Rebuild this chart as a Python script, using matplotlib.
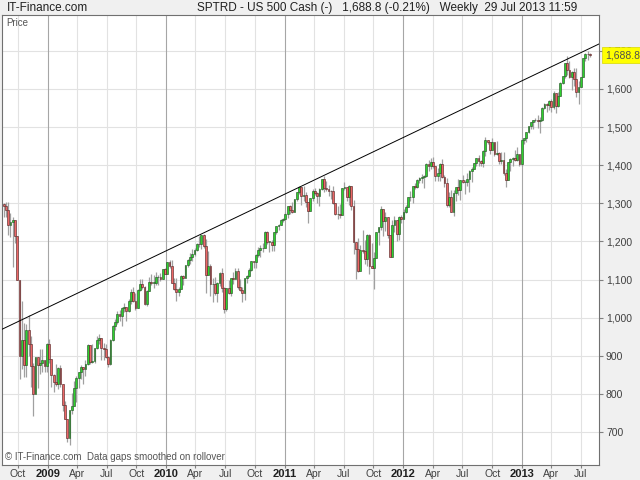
import matplotlib
matplotlib.use("Agg")
import matplotlib.pyplot as plt
import matplotlib.dates as mdates
import matplotlib.transforms as mtransforms
import numpy as np
import pandas as pd

plt.rcParams["font.family"] = ["Liberation Sans", "DejaVu Sans"]

# Weekly S&P 500 cash candles, week of 18 Aug 2008 to week of 29 Jul 2013
FIRST_OPEN = 1298.2

CLOSE_2008 = [1292.2, 1282.8, 1242.3, 1251.7, 1255.1, 1213.3, 1099.2, 899.2, 940.6, 876.8,
              968.8, 931.0, 873.3, 800.0, 896.2, 876.1, 879.7, 887.9, 872.8, 931.8]
HIGH_2008 = [1300.8, 1303.0, 1304.0, 1274.0, 1265.0, 1255.0, 1213.0, 1099.0, 1044.3, 985.4,
             984.4, 1007.5, 951.7, 882.3, 896.3, 896.0, 918.6, 918.9, 887.9, 934.7]
LOW_2008 = [1263.0, 1263.0, 1217.0, 1212.0, 1133.5, 1197.0, 1098.0, 839.8, 865.8, 845.3,
            845.3, 899.7, 818.7, 741.0, 799.9, 815.7, 851.4, 857.9, 857.1, 857.1]

CLOSE_2009 = [890.4, 850.1, 832.0, 825.9, 868.6, 826.8, 770.1, 735.1, 683.4, 756.6,
              768.5, 815.9, 842.5, 856.6, 869.6, 866.2, 877.5, 929.2, 882.9, 887.0,
              919.1, 940.1, 946.2, 921.2, 918.9, 896.4, 879.1, 940.4, 979.3, 987.5,
              1010.5, 1004.1, 1026.1, 1028.9, 1016.4, 1042.7, 1068.3, 1044.4, 1025.2, 1071.5,
              1087.7, 1079.6, 1036.2, 1069.3, 1093.5, 1091.4, 1091.5, 1106.0, 1106.4, 1102.5,
              1126.5, 1115.1]
HIGH_2009 = [943.9, 891.0, 852.5, 877.9, 870.8, 875.0, 827.0, 780.0, 735.1, 758.3,
             803.0, 833.0, 845.6, 856.9, 875.6, 871.8, 888.7, 930.2, 922.0, 930.2,
             920.0, 951.1, 956.2, 946.2, 934.0, 931.0, 898.7, 944.0, 979.8, 996.7,
             1018.0, 1020.9, 1027.6, 1039.5, 1028.5, 1049.7, 1074.8, 1080.2, 1065.0, 1076.0,
             1101.4, 1101.4, 1083.0, 1071.3, 1105.4, 1113.7, 1112.4, 1119.1, 1110.7, 1117.7,
             1126.5, 1130.4]
LOW_2009 = [879.9, 817.0, 804.0, 821.7, 812.9, 818.4, 754.3, 734.5, 672.9, 666.8,
            747.0, 768.0, 779.8, 814.5, 838.0, 826.8, 847.1, 875.0, 878.9, 881.0,
            881.5, 919.0, 930.0, 888.9, 889.0, 893.0, 869.3, 875.0, 940.0, 968.0,
            983.0, 990.0, 978.5, 1016.0, 991.0, 1016.0, 1035.0, 1041.0, 1020.0, 1025.0,
            1071.0, 1074.0, 1033.4, 1029.4, 1069.0, 1085.0, 1079.0, 1086.0, 1085.9, 1095.0,
            1102.0, 1114.8]

CLOSE_2010 = [1145.0, 1136.0, 1091.8, 1073.9, 1066.2, 1075.5, 1109.2, 1104.5, 1138.7, 1150.0,
              1159.9, 1166.6, 1178.1, 1194.4, 1192.1, 1217.3, 1186.7, 1110.9, 1135.7, 1087.7,
              1089.4, 1064.9, 1091.6, 1117.5, 1076.8, 1022.6, 1078.0, 1064.9, 1102.7, 1101.6,
              1121.6, 1079.3, 1071.7, 1064.6, 1104.5, 1109.6, 1125.6, 1148.7, 1146.2, 1165.2,
              1176.2, 1183.1, 1183.3, 1225.9, 1199.2, 1199.7, 1189.4, 1224.7, 1240.4, 1243.9,
              1256.8, 1257.6]
HIGH_2010 = [1145.4, 1150.5, 1150.4, 1103.7, 1104.7, 1080.0, 1112.4, 1112.4, 1139.0, 1153.4,
             1169.2, 1180.7, 1181.4, 1194.7, 1213.9, 1217.3, 1219.8, 1206.0, 1173.6, 1141.8,
             1104.7, 1105.7, 1093.0, 1119.0, 1131.2, 1080.0, 1078.0, 1099.1, 1103.7, 1120.9,
             1129.2, 1129.2, 1100.1, 1081.6, 1105.1, 1110.9, 1131.5, 1148.9, 1149.9, 1167.7,
             1184.4, 1189.4, 1196.1, 1227.1, 1227.1, 1200.7, 1204.2, 1225.6, 1240.4, 1246.7,
             1259.4, 1262.6]
LOW_2010 = [1115.0, 1131.0, 1090.0, 1071.6, 1044.5, 1056.5, 1075.0, 1086.0, 1105.0, 1134.0,
            1141.0, 1148.0, 1161.0, 1175.0, 1186.0, 1181.0, 1181.6, 1065.8, 1122.0, 1055.9,
            1040.8, 1060.0, 1042.2, 1084.0, 1067.0, 1010.9, 1018.0, 1063.0, 1056.0, 1088.0,
            1104.0, 1076.0, 1069.0, 1040.0, 1047.0, 1091.0, 1107.0, 1122.0, 1131.0, 1131.0,
            1159.0, 1159.0, 1171.0, 1184.0, 1194.0, 1173.0, 1176.0, 1173.6, 1220.0, 1231.0,
            1243.0, 1251.0]

CLOSE_2011 = [1271.5, 1293.2, 1283.4, 1276.3, 1310.9, 1329.2, 1343.0, 1319.9, 1321.2, 1304.3,
              1279.2, 1313.8, 1332.4, 1328.2, 1319.7, 1337.4, 1363.6, 1340.2, 1337.8, 1333.3,
              1331.1, 1300.2, 1271.0, 1271.5, 1268.5, 1339.7, 1343.8, 1316.1, 1345.0, 1292.3,
              1199.4, 1178.8, 1123.5, 1176.8, 1174.0, 1154.2, 1216.0, 1136.4, 1131.4, 1155.5,
              1224.6, 1238.3, 1285.1, 1253.2, 1263.9, 1215.7, 1158.7, 1244.3, 1255.2, 1219.7,
              1265.3, 1257.6]
HIGH_2011 = [1278.2, 1293.2, 1296.7, 1302.7, 1311.0, 1330.0, 1344.1, 1342.0, 1344.1, 1330.9,
             1304.4, 1315.0, 1337.9, 1339.5, 1328.9, 1339.5, 1364.6, 1370.6, 1359.4, 1346.8,
             1334.6, 1345.2, 1300.4, 1292.5, 1298.6, 1341.0, 1356.5, 1344.0, 1347.0, 1345.2,
             1307.4, 1199.4, 1208.5, 1190.7, 1230.7, 1204.4, 1220.4, 1220.4, 1195.9, 1171.4,
             1224.6, 1239.0, 1292.7, 1285.1, 1277.6, 1264.3, 1215.7, 1255.1, 1267.0, 1255.2,
             1265.4, 1269.4]
LOW_2011 = [1257.0, 1262.2, 1271.3, 1275.0, 1276.0, 1306.0, 1324.0, 1294.3, 1306.0, 1291.0,
            1249.0, 1279.0, 1305.0, 1322.0, 1302.0, 1294.0, 1334.0, 1329.0, 1331.0, 1318.0,
            1311.8, 1297.0, 1268.0, 1258.0, 1262.7, 1268.0, 1334.0, 1306.0, 1295.9, 1282.9,
            1168.1, 1101.5, 1121.0, 1122.0, 1170.0, 1140.0, 1136.0, 1114.2, 1131.0, 1074.8,
            1170.0, 1191.5, 1231.0, 1215.4, 1226.6, 1209.0, 1158.0, 1158.7, 1225.0, 1202.0,
            1202.4, 1248.6]

CLOSE_2012 = [1277.8, 1289.1, 1315.4, 1316.3, 1344.9, 1342.6, 1361.2, 1365.7, 1370.0, 1370.9,
              1404.2, 1397.1, 1408.5, 1398.1, 1370.3, 1378.5, 1403.4, 1369.1, 1353.4, 1295.2,
              1317.8, 1278.0, 1325.7, 1342.8, 1335.0, 1362.2, 1354.7, 1356.8, 1362.7, 1386.0,
              1391.0, 1405.9, 1418.2, 1411.1, 1406.6, 1437.9, 1465.8, 1460.2, 1440.7, 1460.9,
              1428.6, 1433.2, 1411.9, 1414.2, 1379.9, 1359.9, 1409.2, 1416.2, 1418.1, 1413.6,
              1430.2, 1402.4, 1466.5]
HIGH_2012 = [1284.6, 1296.8, 1315.5, 1333.5, 1345.3, 1354.3, 1363.5, 1368.9, 1378.0, 1374.0,
             1406.6, 1414.0, 1419.2, 1422.4, 1398.0, 1392.8, 1406.6, 1415.3, 1373.0, 1365.9,
             1328.5, 1334.9, 1335.5, 1343.3, 1363.5, 1362.2, 1374.8, 1362.0, 1380.4, 1387.2,
             1394.2, 1405.9, 1418.7, 1426.7, 1413.5, 1438.7, 1474.5, 1467.0, 1460.7, 1471.0,
             1460.9, 1464.0, 1433.8, 1434.3, 1433.4, 1388.8, 1409.2, 1419.7, 1420.9, 1438.6,
             1448.0, 1430.2, 1470.0]
LOW_2012 = [1258.0, 1274.0, 1290.2, 1306.0, 1300.5, 1337.0, 1340.0, 1352.0, 1354.0, 1340.0,
            1370.0, 1386.0, 1391.0, 1392.0, 1357.4, 1358.0, 1358.7, 1367.0, 1343.0, 1291.0,
            1291.0, 1277.0, 1266.7, 1306.6, 1323.0, 1309.0, 1353.0, 1325.4, 1345.0, 1329.0,
            1354.7, 1391.0, 1397.0, 1398.0, 1397.0, 1396.0, 1425.0, 1455.0, 1430.0, 1440.0,
            1425.0, 1428.0, 1403.3, 1403.0, 1373.0, 1343.4, 1360.0, 1385.4, 1398.0, 1411.9,
            1412.0, 1398.1, 1398.0]

CLOSE_2013 = [1472.1, 1486.0, 1503.0, 1513.2, 1517.9, 1519.8, 1515.6, 1518.2, 1551.2, 1560.7,
              1556.9, 1569.2, 1553.3, 1588.9, 1555.3, 1582.2, 1614.4, 1633.7, 1667.5, 1649.6,
              1630.7, 1643.4, 1626.7, 1592.4, 1606.3, 1631.9, 1680.2, 1692.1, 1691.7, 1688.8]
HIGH_2013 = [1472.3, 1486.0, 1503.3, 1514.4, 1518.3, 1524.7, 1530.9, 1525.8, 1552.5, 1563.6,
             1563.6, 1570.3, 1573.7, 1593.3, 1588.9, 1592.6, 1618.5, 1635.0, 1667.5, 1687.2,
             1674.2, 1646.5, 1654.2, 1654.2, 1620.0, 1632.1, 1680.2, 1693.1, 1698.8, 1693.0]
LOW_2013 = [1456.0, 1461.0, 1485.0, 1496.0, 1495.0, 1514.0, 1497.3, 1485.0, 1515.0, 1547.0,
            1538.6, 1546.0, 1539.5, 1548.0, 1536.0, 1553.0, 1581.0, 1614.0, 1628.0, 1635.5,
            1630.0, 1598.2, 1608.0, 1577.7, 1560.3, 1604.6, 1631.0, 1674.0, 1676.0, 1683.0]

LAST_PRICE = 1688.8

# hand-drawn trend line (two anchor points)
TREND_DATES = ["2008-08-13", "2013-08-26"]
TREND_VALUES = [969.5, 1718.0]

# assemble series
close = np.array(CLOSE_2008 + CLOSE_2009 + CLOSE_2010 + CLOSE_2011 + CLOSE_2012 + CLOSE_2013)
high = np.array(HIGH_2008 + HIGH_2009 + HIGH_2010 + HIGH_2011 + HIGH_2012 + HIGH_2013)
low = np.array(LOW_2008 + LOW_2009 + LOW_2010 + LOW_2011 + LOW_2012 + LOW_2013)
opens = np.r_[FIRST_OPEN, close[:-1]]  # cash index: week opens at previous close
high = np.maximum(high, np.maximum(opens, close))
low = np.minimum(low, np.minimum(opens, close))

weeks = pd.date_range("2008-08-18", periods=len(close), freq="W-MON")
x = mdates.date2num(weeks)

fig = plt.figure(figsize=(6.4, 4.8), dpi=100, facecolor="#f0f0f0")
ax = fig.add_axes([2 / 640, 15 / 480, 597 / 640, 450 / 480])
ax.set_facecolor("white")

x0 = mdates.date2num(pd.Timestamp("2008-08-13"))
x1 = mdates.date2num(pd.Timestamp("2013-08-26"))
ax.set_xlim(x0, x1)
ax.set_ylim(613.4, 1794)

# grid
yticks = np.arange(700, 1800, 100)
for yv in yticks:
    ax.axhline(yv, color="#e2e2e2", lw=0.8, zorder=0)
qticks = pd.date_range("2008-10-01", "2013-07-01", freq="QS")
for d in qticks:
    ax.axvline(mdates.date2num(d), color="#a6a6a6" if d.month == 1 else "#e2e2e2",
               lw=0.8, zorder=0)

# candles
up = close >= opens
ax.vlines(x, low, high, color="#a0a0a0", lw=0.9, zorder=2)
body_lo = np.minimum(opens, close)
body_h = np.maximum(np.abs(close - opens), 0.8)
ax.bar(x[up], body_h[up], bottom=body_lo[up], width=5.6, color="#2ed12e",
       edgecolor="#1e4a1e", linewidth=0.4, zorder=3)
ax.bar(x[~up], body_h[~up], bottom=body_lo[~up], width=5.6, color="#ec6666",
       edgecolor="#4a1e1e", linewidth=0.4, zorder=3)

# trend line
ax.plot(mdates.date2num(pd.to_datetime(TREND_DATES)), TREND_VALUES,
        color="black", lw=0.7, zorder=4)

# axes styling
for s in ax.spines.values():
    s.set_color("#707070")
    s.set_linewidth(0.8)
ax.yaxis.tick_right()
ax.set_yticks(yticks)
ax.set_yticklabels([f"{v:,}" for v in yticks])
ax.tick_params(axis="y", length=3, color="#808080", labelsize=7.5,
               labelcolor="#404040", pad=2)

ax.set_xticks(mdates.date2num(qticks))
ax.set_xticklabels([str(d.year) if d.month == 1 else d.strftime("%b") for d in qticks])
ax.tick_params(axis="x", length=2, color="#808080", labelsize=7.5,
               labelcolor="#404040", pad=1)
for d, lab in zip(qticks, ax.get_xticklabels()):
    if d.month == 1:
        lab.set_fontweight("bold")
        lab.set_fontsize(8)
        lab.set_color("#202020")

# last price marker (covers the 1,700 label, as in the source chart)
trans = mtransforms.blended_transform_factory(ax.transAxes, ax.transData)
ax.text(1.0 + 6 / 597, LAST_PRICE, f"{LAST_PRICE:,.1f}", transform=trans,
        ha="left", va="center", fontsize=7.5, color="#505050", zorder=10, clip_on=False,
        bbox=dict(boxstyle="square,pad=0.3", fc="#ffff00", ec="#d8d800", lw=0.5))

# captions
ax.text(4 / 597, 1 - 3 / 450, "Price", transform=ax.transAxes, ha="left", va="top",
        fontsize=7, color="#555555")
ax.text(3 / 597, 3 / 450, "\u00a9 IT-Finance.com  Data gaps smoothed on rollover",
        transform=ax.transAxes, ha="left", va="bottom", fontsize=7, color="#555555")
fig.text(7 / 640, 1 - 8 / 480, "IT-Finance.com", ha="left", va="center",
         fontsize=8.5, color="#202020")
fig.text(197 / 640, 1 - 8 / 480,
         "SPTRD - US 500 Cash (-)   1,688.8 (-0.21%)   Weekly  29 Jul 2013 11:59",
         ha="left", va="center", fontsize=8.5, color="#202020")

fig.savefig("out.png", dpi=100, facecolor=fig.get_facecolor())
